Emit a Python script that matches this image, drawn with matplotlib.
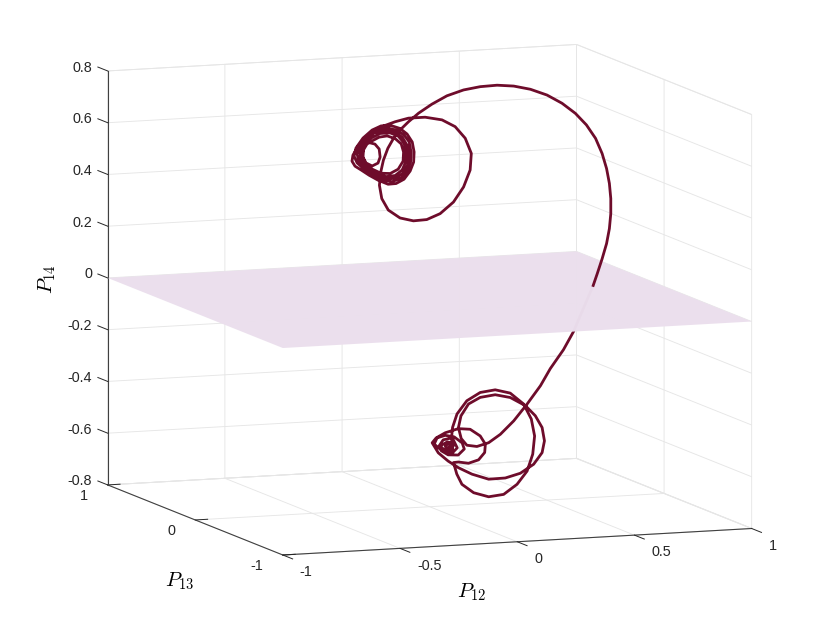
import matplotlib
matplotlib.use('Agg')
import matplotlib.pyplot as plt
from matplotlib.transforms import Affine2D
import numpy as np

plt.rcParams['font.family'] = ['Liberation Sans', 'DejaVu Sans']
plt.rcParams['mathtext.fontset'] = 'cm'
plt.rcParams['axes.unicode_minus'] = False

# Upper branch, from the plane crossing into the upper spiral
p12_upper = [.735,.752,.773,.792,.804,.810,.810,.804,.792,.773,.745,.706,.659,.602,.538,.467,.396,.325,.253,.182,
             .111,.047,-.010,-.053,-.089,-.117,-.141,-.160,-.171,-.177,-.167,-.139,-.089,-.032,.025,.082,.139,.182,.210,.215,
             .189,.146,.090,.018,-.053,-.110,-.167,-.196,-.234,-.268,-.290,-.294,-.281,-.255,-.221,-.183,-.140,-.106,-.072,-.046,
             -.031,-.029,-.037,-.059,-.089,-.127,-.170,-.208,-.247,-.277,-.285,-.272,-.243,-.204,-.161,-.123,-.084,-.059,-.044,-.042,
             -.050,-.072,-.101,-.140,-.183,-.221,-.255,-.272,-.264,-.234,-.191,-.149,-.106,-.076,-.057,-.052,-.059,-.080,-.114,-.157,
             -.200,-.238,-.260,-.257,-.234,-.191,-.149,-.110,-.080,-.065,-.063,-.072,-.097,-.131,-.174,-.213,-.243,-.251,-.238,-.208,
             -.170,-.131,-.097,-.076,-.074,-.084,-.110,-.144,-.178,-.208,-.230,-.245,-.247,-.234,-.208,-.183,-.174,-.178,-.196,-.217]
p14_upper = [.004,.048,.105,.163,.220,.278,.336,.395,.453,.512,.572,.626,.673,.715,.750,.776,.792,.799,.797,.788,
             .769,.740,.708,.677,.647,.616,.579,.534,.490,.438,.386,.340,.307,.293,.295,.315,.357,.413,.477,.541,
             .601,.648,.677,.691,.691,.680,.664,.652,.627,.594,.560,.537,.517,.501,.479,.458,.440,.441,.456,.486,
             .520,.559,.598,.630,.653,.666,.667,.653,.624,.587,.556,.529,.504,.481,.457,.449,.461,.485,.521,.559,
             .599,.627,.646,.657,.654,.634,.601,.563,.532,.503,.478,.460,.462,.480,.510,.548,.587,.619,.641,.649,
             .641,.612,.574,.539,.511,.486,.470,.472,.492,.522,.560,.596,.624,.638,.638,.622,.593,.558,.527,.502,
             .484,.481,.496,.526,.561,.593,.615,.627,.624,.611,.600,.578,.550,.527,.514,.524,.547,.578,.598,.604]
p13_upper = [0.1] * len(p12_upper)  # depth cannot be read from a single view

# Lower branch, from the plane crossing into the lower spiral
p12_lower = [.735,.702,.651,.608,.552,.510,.453,.396,.339,.289,.239,.196,.172,.160,.171,.203,.253,.317,.381,.446,
             .488,.517,.527,.517,.481,.424,.360,.289,.218,.160,.116,.074,.048,.065,.104,.160,.210,.253,.275,.272,
             .246,.203,.160,.139,.153,.175,.225,.289,.353,.410,.453,.477,.485,.471,.438,.381,.317,.253,.196,.154,
             .135,.131,.132,.136,.104,.074,.057,.069,.104,.142,.176,.185,.159,.116,.087,.078,.095,.134,.155,.138,
             .104,.082,.091,.112,.138,.134,.108,.104,.116,.138,.129,.116,.129]
p14_lower = [.004,-.064,-.170,-.238,-.308,-.372,-.440,-.502,-.551,-.581,-.593,-.586,-.559,-.516,-.471,-.427,-.404,-.397,-.411,-.446,
             -.487,-.534,-.586,-.631,-.674,-.706,-.721,-.722,-.699,-.671,-.643,-.609,-.569,-.551,-.533,-.520,-.525,-.553,-.586,-.618,
             -.645,-.656,-.649,-.650,-.695,-.736,-.771,-.790,-.784,-.748,-.699,-.635,-.565,-.499,-.439,-.394,-.378,-.385,-.414,-.463,
             -.514,-.550,-.585,-.616,-.607,-.590,-.574,-.551,-.543,-.551,-.576,-.600,-.622,-.619,-.602,-.582,-.560,-.554,-.594,-.609,
             -.603,-.583,-.579,-.569,-.574,-.597,-.596,-.584,-.577,-.586,-.585,-.592,-.585]
p13_lower = [0.1] * len(p12_lower)

# Plane P14 = 0
plane_p12 = [-1, 1]
plane_p13 = [-1, 1]
plane_p14 = [[0, 0], [0, 0]]

x_ticks = [-1, -0.5, 0, 0.5, 1]
x_labels = ['-1', '-0.5', '0', '0.5', '1']
y_ticks = [-1, 0, 1]
y_labels = ['-1', '0', '1']
z_ticks = [-0.8, -0.6, -0.4, -0.2, 0, 0.2, 0.4, 0.6, 0.8]
z_labels = ['-0.8', '-0.6', '-0.4', '-0.2', '0', '0.2', '0.4', '0.6', '0.8']

LINE = '#6e0c2b'
PLANE = '#ebdfed'
GRID = '#e6e6e6'
DARK = '#404040'

W, H = 830, 623
S = 797
cx, cy = 418.9, 310.5
fig = plt.figure(figsize=(W / 100, H / 100), dpi=100, facecolor='white')
ax = fig.add_axes([(cx - S / 2) / W, (H - cy - S / 2) / H, S / W, S / H],
                  projection='3d', proj_type='ortho', computed_zorder=False)
ax.view_init(elev=8.65, azim=-110.6)
ax.set_box_aspect((500, 497, 418), zoom=1.0)
ax.patch.set_alpha(0)

ax.set_xlim(-1, 1)
ax.set_ylim(-1, 1)
ax.set_zlim(-0.8, 0.8)

ax.plot(p12_lower, p13_lower, p14_lower, color=LINE, lw=2.0, zorder=1, solid_joinstyle='round')
PX, PY = np.meshgrid(plane_p12, plane_p13)
ax.plot_surface(PX, PY, np.array(plane_p14), color=PLANE, shade=False, alpha=0.985, linewidth=0, zorder=2)
ax.plot(p12_upper, p13_upper, p14_upper, color=LINE, lw=2.0, zorder=3, solid_joinstyle='round')

ax.set_xticks(x_ticks, x_labels)
ax.set_yticks(y_ticks, y_labels)
ax.set_zticks(z_ticks, z_labels)

for axis in (ax.xaxis, ax.yaxis, ax.zaxis):
    axis.set_pane_color((1, 1, 1, 1))
    axis.pane.set_edgecolor(GRID)
    axis.pane.set_linewidth(0.65)
    axis.line.set_color(DARK)
    axis.line.set_linewidth(0.8)
    axis._axinfo['grid'].update(color=GRID, linewidth=0.65)
    axis.set_rotate_label(False)
ax.xaxis._get_tickdir = lambda pos: 1
ax.yaxis._get_tickdir = lambda pos: 0
ax.zaxis._get_tickdir = lambda pos: 1
ax.xaxis._axinfo['tick'].update(inward_factor=0, outward_factor=-0.7, linewidth={True: 0.7, False: 0.7})
ax.yaxis._axinfo['tick'].update(inward_factor=0, outward_factor=0.33, linewidth={True: 0.7, False: 0.7})
ax.zaxis._axinfo['tick'].update(inward_factor=0, outward_factor=0.7, linewidth={True: 0.7, False: 0.7})

ax.tick_params(axis='both', which='major', labelsize=10.4, colors='#262626', pad=2)
ax.tick_params(axis='z', which='major', labelsize=10.4, colors='#262626', pad=2)


def offset_tick_labels(axis, dx, dy, ha):
    """Keep the real tick labels but nudge them by pixels, as Axis3D resets their transform."""
    original = axis.get_major_ticks

    def patched(numticks=None):
        ticks = original(numticks)
        for tick in ticks:
            tick.label1.set_transform(ax.transData + Affine2D().translate(dx, dy))
            tick.label1.set_ha(ha)
        return ticks

    axis.get_major_ticks = patched


offset_tick_labels(ax.xaxis, 11, 6, 'left')
offset_tick_labels(ax.yaxis, -4, 11, 'right')
offset_tick_labels(ax.zaxis, 6, 9, 'right')

ax.set_xlabel('$P_{12}$', fontsize=15, labelpad=8, rotation=0)
ax.set_ylabel('$P_{13}$', fontsize=15, labelpad=8, rotation=0)
ax.set_zlabel('$P_{14}$', fontsize=15, labelpad=8, rotation=90)


def offset_axis_label(label, dx, dy):
    """Axis3D reassigns the label transform on draw, so shift it where the text asks for it."""
    label.get_transform = lambda: ax.transData + Affine2D().translate(dx, dy)


offset_axis_label(ax.xaxis.label, -63, -4)
offset_axis_label(ax.yaxis.label, 30, -19)
offset_axis_label(ax.zaxis.label, 2, -5)

fig.savefig('out.png', dpi=100)
